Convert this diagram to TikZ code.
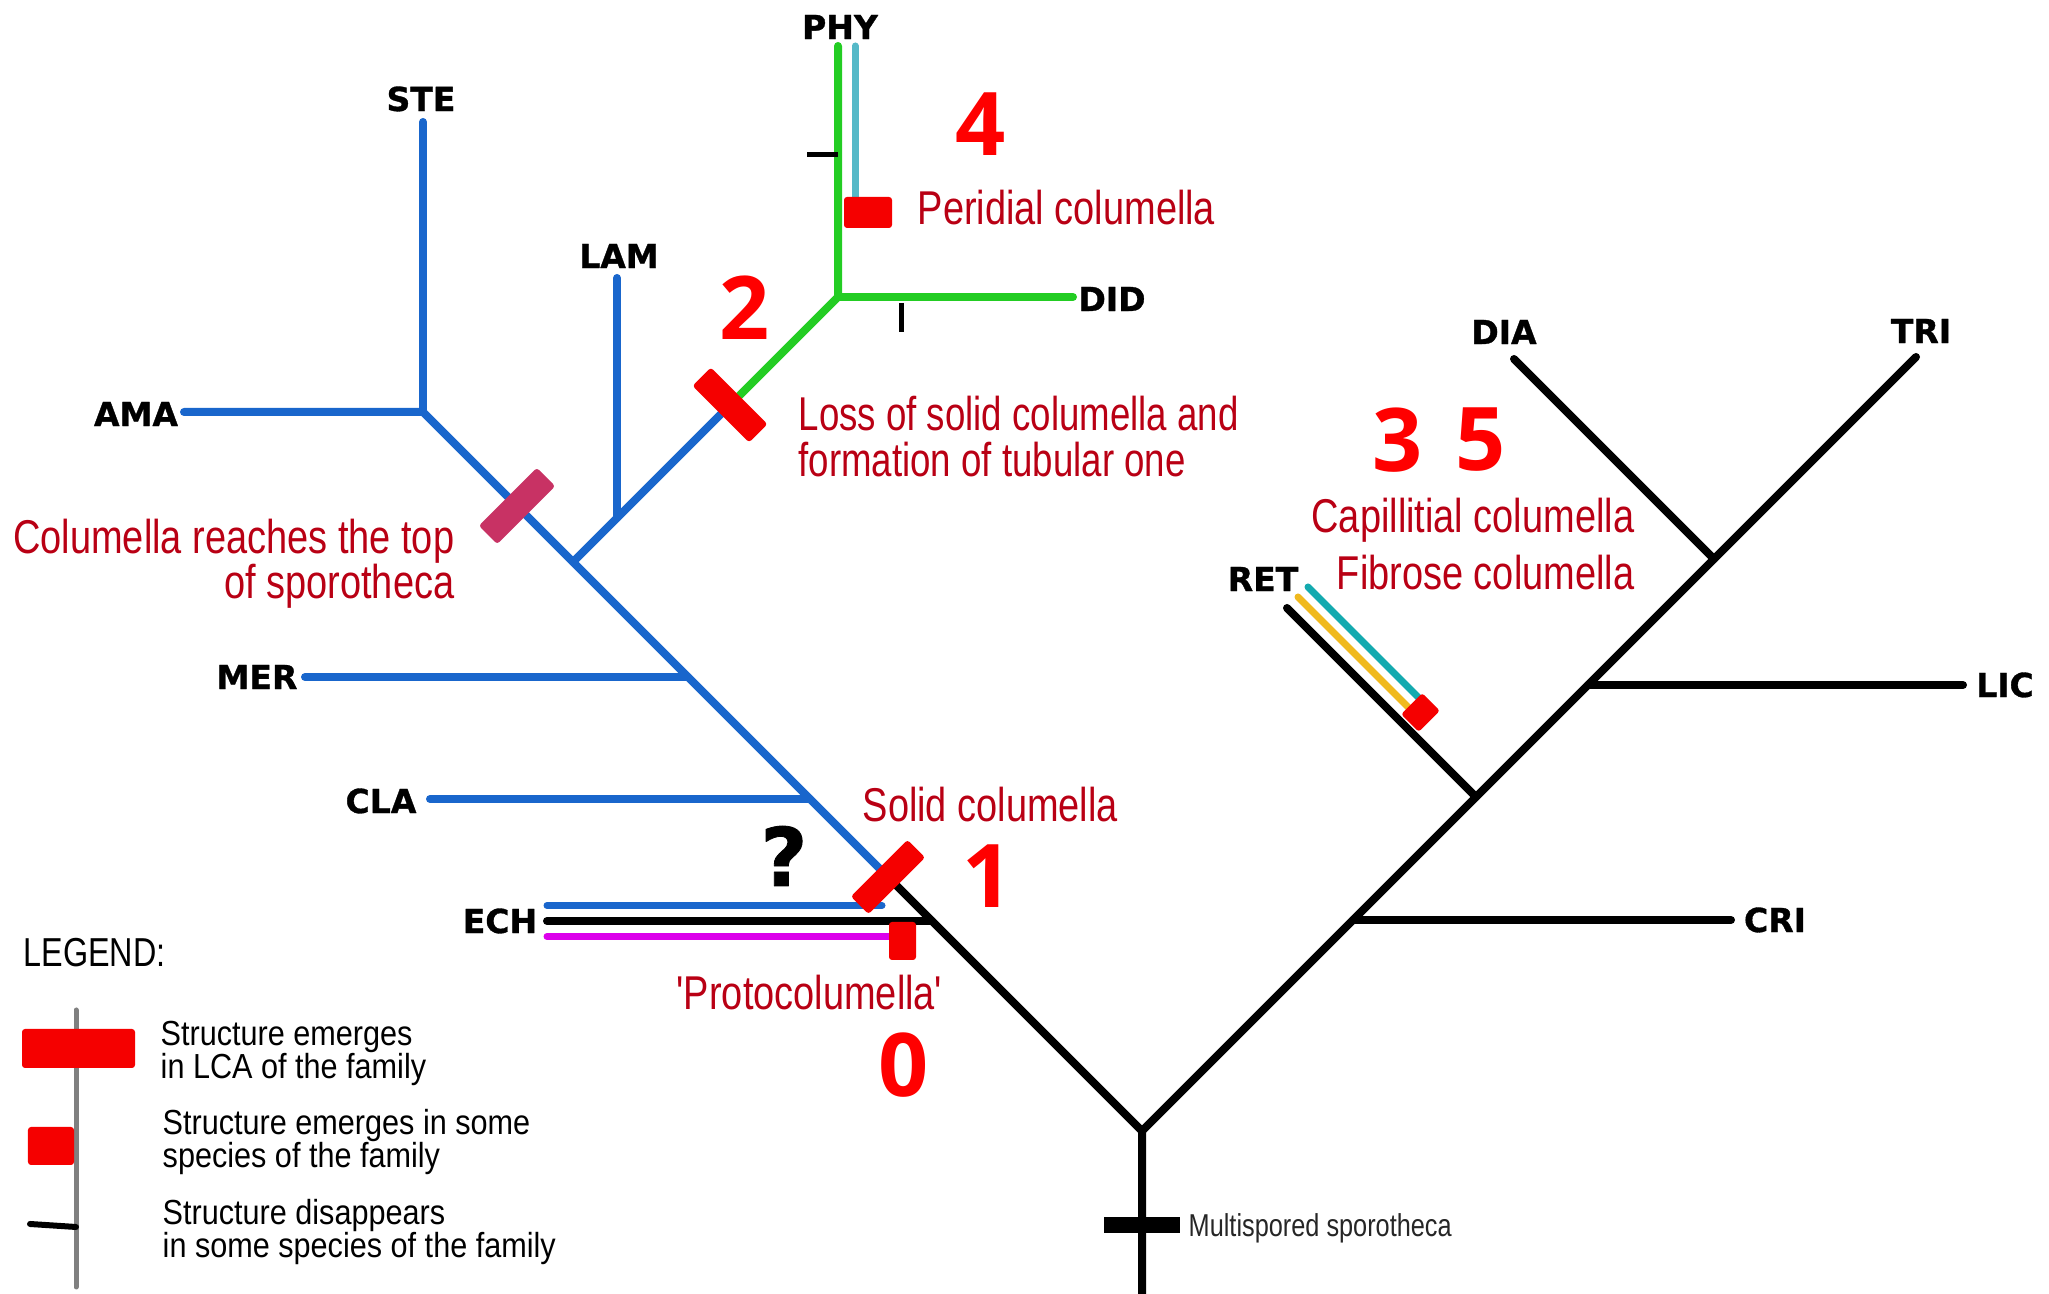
\documentclass[tikz,border=0pt]{standalone}
\usepackage{fontspec}
\setmainfont{Liberation Sans}
\newfontfamily\narrowfont{Liberation Sans}[FakeStretch=0.80]
\newfontfamily\keyfont{Liberation Sans}[FakeStretch=0.88]
\newfontfamily\tagfont{DejaVu Sans}[FakeBold=1]
\newfontfamily\numfont{Open Sans}

\definecolor{cladeblue}{RGB}{25,102,204}
\definecolor{cladegreen}{RGB}{35,205,35}
\definecolor{peridteal}{RGB}{85,185,200}
\definecolor{capteal}{RGB}{20,170,175}
\definecolor{fibyellow}{RGB}{240,185,30}
\definecolor{protomag}{RGB}{220,0,235}
\definecolor{markred}{RGB}{245,0,0}
\definecolor{markpink}{RGB}{200,50,100}
\definecolor{notered}{RGB}{185,0,20}
\definecolor{numred}{RGB}{255,0,0}

\tikzset{
  branch/.style={line width=0.08cm,line cap=round},
  strand/.style={line width=0.07cm,line cap=round},
  taxon/.style={font=\tagfont\bfseries\fontsize{9.4}{11}\selectfont,inner sep=0pt},
  note/.style={font=\narrowfont\fontsize{13.5}{15}\selectfont,text=notered,inner sep=0pt},
  keytext/.style={font=\keyfont\fontsize{9.9}{11}\selectfont,inner sep=0pt,anchor=base west},
  stepno/.style={font=\numfont\bfseries\fontsize{25}{28}\selectfont,text=numred,inner sep=0pt},
  bar/.style={fill=markred,rounded corners=0.03cm,inner sep=0pt,minimum width=0.80cm,minimum height=0.25cm},
}

\begin{document}
\begin{tikzpicture}[line join=round]
\useasboundingbox (0,0) rectangle (20.49,12.94);

% junctions
\coordinate (base) at (11.42,0);
\coordinate (root) at (11.42,1.63);
\coordinate (jech) at (9.32,3.73);
\coordinate (cbar1) at (8.88,4.17);
\coordinate (jcla) at (8.10,4.95);
\coordinate (jmer) at (6.88,6.17);
\coordinate (jtub) at (5.73,7.32);
\coordinate (cpink) at (5.17,7.88);
\coordinate (jste) at (4.23,8.82);
\coordinate (jlam) at (6.17,7.76);
\coordinate (cbar2) at (7.30,8.89);
\coordinate (jphy) at (8.38,9.97);
\coordinate (jcri) at (13.53,3.74);
\coordinate (jret) at (14.76,4.97);
\coordinate (cret) at (14.06,5.67);
\coordinate (jlic) at (15.88,6.09);
\coordinate (jdia) at (17.14,7.35);
% tips
\coordinate (amaend) at (1.84,8.82);
\coordinate (steend) at (4.23,11.72);
\coordinate (lamend) at (6.17,10.16);
\coordinate (phyend) at (8.38,12.48);
\coordinate (didend) at (10.73,9.97);
\coordinate (merend) at (3.05,6.17);
\coordinate (claend) at (4.30,4.95);
\coordinate (echend) at (5.47,3.73);
\coordinate (retend) at (12.87,6.86);
\coordinate (diaend) at (15.14,9.35);
\coordinate (triend) at (19.16,9.37);
\coordinate (licend) at (19.63,6.09);
\coordinate (criend) at (17.31,3.74);

% black part of the tree
\draw[branch] (base) -- (root) -- (jech) -- (cbar1);
\draw[branch] (root) -- (triend);
\draw[branch] (jcri) -- (criend);
\draw[branch] (jret) -- (retend);
\draw[branch] (jlic) -- (licend);
\draw[branch] (jdia) -- (diaend);
\draw[branch] (echend) -- (jech);

% blue clade
\draw[branch,cladeblue] (cbar1) -- (jste) -- (amaend);
\draw[branch,cladeblue] (jste) -- (steend);
\draw[branch,cladeblue] (jmer) -- (merend);
\draw[branch,cladeblue] (jcla) -- (claend);
\draw[branch,cladeblue] (jtub) -- (cbar2);
\draw[branch,cladeblue] (jlam) -- (lamend);
\draw[strand,cladeblue] ([yshift=0.155cm]echend) -- (8.82,3.885);
\draw[strand,protomag] ([yshift=-0.155cm]echend) -- (9.00,3.575);

% green clade
\draw[branch,cladegreen] (cbar2) -- (jphy) -- (phyend);
\draw[branch,cladegreen] (jphy) -- (didend);
\draw[strand,peridteal] (8.55,12.48) -- (8.55,10.90);

% strands on RET
\draw[strand,fibyellow] ([shift={(0.11,0.11)}]retend) -- ([shift={(0.11,0.11)}]cret);
\draw[strand,capteal] ([shift={(0.21,0.21)}]retend) -- ([shift={(0.21,0.21)}]cret);

% losses
\draw[line width=0.05cm] (8.07,11.39) -- (phyend |- 0,11.39);
\draw[line width=0.05cm] (9.01,9.91) -- (9.01,9.62);

% gains
\node[bar,rotate=45] (bar1) at (cbar1) {};
\node[bar,rotate=45,fill=markpink,minimum width=0.82cm,minimum height=0.26cm] (barpink) at (cpink) {};
\node[bar,rotate=-45,minimum height=0.26cm] (bar2) at (cbar2) {};
\node[bar,minimum width=0.48cm,minimum height=0.31cm] (barperid) at (8.68,10.815) {};
\node[bar,minimum width=0.27cm,minimum height=0.38cm] (barproto) at (9.025,3.53) {};
\node[bar,rotate=45,minimum width=0.30cm,minimum height=0.25cm] (barcap) at ([shift={(0.145,0.145)}]cret) {};
\node[fill=black,inner sep=0pt,minimum width=0.76cm,minimum height=0.16cm] (barmulti) at (11.42,0.69) {};

% taxa
\node[taxon] (phy) at (8.40,12.67) {PHY};
\node[taxon] (ste) at (4.21,11.95) {STE};
\node[taxon] (lam) at (6.19,10.38) {LAM};
\node[taxon] (ama) at (1.36,8.80) {AMA};
\node[taxon] (did) at (11.12,9.95) {DID};
\node[taxon] (mer) at (2.57,6.17) {MER};
\node[taxon] (cla) at (3.81,4.93) {CLA};
\node[taxon] (ech) at (5.00,3.73) {ECH};
\node[taxon] (ret) at (12.63,7.15) {RET};
\node[taxon] (dia) at (15.04,9.62) {DIA};
\node[taxon] (tri) at (19.21,9.63) {TRI};
\node[taxon] (lic) at (20.05,6.09) {LIC};
\node[taxon] (cri) at (17.75,3.74) {CRI};

% characters
\node[note,anchor=base west] (peridial) at (9.17,10.69) {Peridial columella};
\node[note,anchor=base west,xscale=0.965] (loss1) at (7.98,8.63) {Loss of solid columella and};
\node[note,anchor=base west,xscale=0.965] (loss2) at (7.98,8.17) {formation of tubular one};
\node[note,anchor=base east] (top1) at (4.55,7.40) {Columella reaches the top};
\node[note,anchor=base east] (top2) at (4.55,6.95) {of sporotheca};
\node[note,anchor=base east] (capil) at (16.35,7.61) {Capillitial columella};
\node[note,anchor=base east] (fibr) at (16.35,7.04) {Fibrose columella};
\node[note,anchor=base west] (solid) at (8.62,4.72) {Solid columella};
\node[note,anchor=base west] (proto) at (6.76,2.84) {'Protocolumella'};
\node[anchor=base west,inner sep=0pt,text=black!85,font=\narrowfont\fontsize{9}{11}\selectfont] (multi) at (11.88,0.57) {Multispored sporotheca};

\node[stepno] (n4) at (9.81,11.70) {4};
\node[stepno] (n2) at (7.45,9.86) {2};
\node[stepno] (n3) at (13.98,8.54) {3};
\node[stepno] (n5) at (14.81,8.54) {5};
\node[stepno] (n1) at (9.88,4.18) {1};
\node[stepno] (n0) at (9.04,2.29) {0};
\node[inner sep=0pt,font=\tagfont\bfseries\fontsize{23}{26}\selectfont] (query) at (7.84,4.38) {?};

% legend
\node[anchor=base west,inner sep=0pt,font=\narrowfont\fontsize{11.5}{13}\selectfont] (legend) at (0.23,3.27) {LEGEND:};
\draw[line width=0.05cm,black!50,line cap=round] (0.76,2.84) -- (0.76,0.07);
\node[bar,minimum width=1.13cm,minimum height=0.39cm] (keylca) at (0.785,2.455) {};
\node[bar,minimum width=0.46cm,minimum height=0.38cm] (keysome) at (0.51,1.48) {};
\draw[line width=0.06cm,line cap=round] (0.30,0.70) -- (0.76,0.67);
\node[keytext] (key1a) at (1.60,2.48) {Structure emerges};
\node[keytext] (key1b) at (1.60,2.15) {in LCA of the family};
\node[keytext] (key2a) at (1.62,1.59) {Structure emerges in some};
\node[keytext] (key2b) at (1.62,1.26) {species of the family};
\node[keytext] (key3a) at (1.62,0.69) {Structure disappears};
\node[keytext] (key3b) at (1.62,0.36) {in some species of the family};
\end{tikzpicture}
\end{document}
